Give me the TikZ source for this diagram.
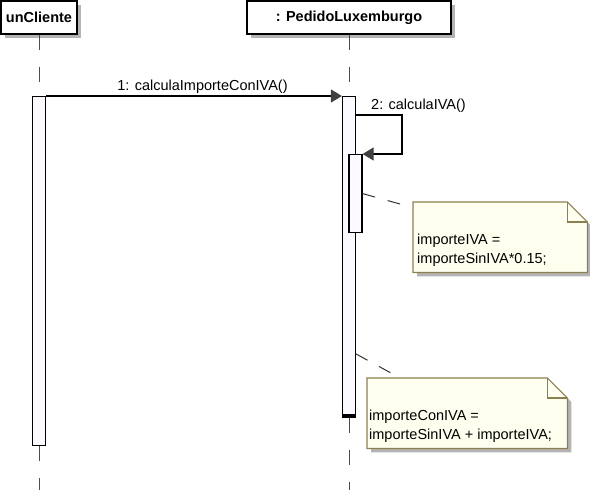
\documentclass[tikz,border=0pt]{standalone}
\usepackage{fontspec}
\setmainfont{Liberation Sans}
\usetikzlibrary{arrows.meta,positioning,shadows}

\definecolor{notafondo}{RGB}{255,255,240}
\definecolor{notaborde}{RGB}{140,128,80}
\definecolor{sombra}{RGB}{180,180,180}
\definecolor{punta}{RGB}{64,64,64}
\definecolor{actfondo}{RGB}{253,250,255}

\begin{document}
\begin{tikzpicture}[x=1pt,y=-1pt]
		% Define node styles
		\tikzstyle{objeto} = [draw, line width=1.2pt, fill=white, font=\fontsize{14.5}{17}\selectfont\bfseries, minimum height=33pt, inner sep=0pt, drop shadow={shadow xshift=4pt, shadow yshift=-4pt, fill=sombra, opacity=1}];
		\tikzstyle{activacion} = [draw, line width=1.2pt, fill=actfondo, minimum width=13pt, inner sep=0pt, anchor=north];
		\tikzstyle{vida} = [draw=black!70, line width=1pt, dash pattern=on 15pt off 17pt];
		\tikzstyle{mensaje} = [line width=1.2pt, -{Triangle[length=11pt,width=13pt,color=punta]}];
		\tikzstyle{etiqueta} = [font=\fontsize{14.5}{17}\selectfont, inner sep=1.5pt];
		\tikzstyle{nota} = [inner sep=0pt, anchor=north west];
		\tikzstyle{notaforma} = [draw=notaborde, fill=notafondo, line width=1.2pt, drop shadow={shadow xshift=4pt, shadow yshift=-4pt, fill=sombra, opacity=1}];
		\tikzstyle{notatexto} = [font=\fontsize{14.5}{19}\selectfont, align=left, inner sep=0pt, anchor=south west];
		\tikzstyle{enlace} = [draw=black!80, line width=1pt, dash pattern=on 13pt off 13pt];
		
		\useasboundingbox (0,0) rectangle (590,490);
		
		% Objects
		\node[objeto, minimum width=76pt] (cliente) at (39,17.5) {unCliente};
		\node[objeto, minimum width=204pt] (pedido) at (349,17.5) {: PedidoLuxemburgo};
		
		% Activations
		\node[activacion, minimum height=349pt] (actCliente) at (39,96) {};
		\node[activacion, minimum height=319pt] (actPedido) at (349,96) {};
		\node[activacion, minimum height=78pt] (actIVA) at (355.5,154) {};
		\draw[line width=3.5pt] (actPedido.south west) -- (actPedido.south east);
		
		% Lifelines
		\coordinate (finCliente) at (39,490);
		\coordinate (finPedido) at (349,490);
		\draw[vida] (cliente.south) -- (actCliente.north);
		\draw[vida] (actCliente.south) -- (finCliente);
		\draw[vida] (pedido.south) -- (actPedido.north);
		\draw[vida] ([yshift=-1.8pt]actPedido.south) -- (finPedido);
		
		% Messages
		\draw[mensaje] (actCliente.north east) -- node[etiqueta, above, xshift=8.5pt] {1: calculaImporteConIVA()} (actPedido.north west);
		\coordinate (giro) at (402,115);
		\draw[mensaje] (actPedido.east |- giro) -- node[etiqueta, pos=0, anchor=south west, xshift=13pt] {2: calculaIVA()} (giro) |- (actIVA.north east);
		
		% Note 1
		\node[nota, minimum width=174pt, minimum height=70pt] (nota1) at (413,202) {};
		\filldraw[notaforma] (nota1.north west) -- ([xshift=-20pt]nota1.north east) -- ([yshift=-20pt]nota1.north east) -- (nota1.south east) -- (nota1.south west) -- cycle;
		\draw[draw=notaborde, line width=1.2pt] ([xshift=-20pt]nota1.north east) |- ([yshift=-20pt]nota1.north east);
		\node[notatexto] (texto1) at ([xshift=4pt, yshift=6pt]nota1.south west) {importeIVA =\\importeSinIVA*0.15;};
		\draw[enlace] (actIVA.east) -- ([shift={(-13,2)}]nota1.north west);
		
		% Note 2
		\node[nota, minimum width=200pt, minimum height=70pt] (nota2) at (367,378) {};
		\filldraw[notaforma] (nota2.north west) -- ([xshift=-20pt]nota2.north east) -- ([yshift=-20pt]nota2.north east) -- (nota2.south east) -- (nota2.south west) -- cycle;
		\draw[draw=notaborde, line width=1.2pt] ([xshift=-20pt]nota2.north east) |- ([yshift=-20pt]nota2.north east);
		\node[notatexto] (texto2) at ([xshift=2pt, yshift=6pt]nota2.south west) {importeConIVA =\\importeSinIVA + importeIVA;};
		\coordinate (ancla2) at (actPedido.east |- 0,354);
		\draw[enlace] (ancla2) -- ([shift={(24,-5)}]nota2.north west);
	\end{tikzpicture}
\end{document}
